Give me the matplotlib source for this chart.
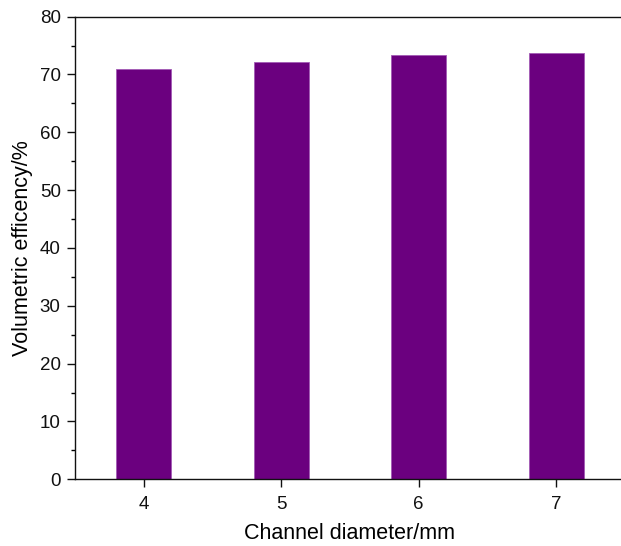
import matplotlib
matplotlib.use("Agg")
import matplotlib.pyplot as plt
from matplotlib.ticker import MultipleLocator

# Volumetric efficiency for each channel diameter
diameters = [4, 5, 6, 7]
efficiency = [70.9, 72.2, 73.4, 73.7]

plt.rcParams['font.family'] = ['Liberation Sans', 'DejaVu Sans']

fig = plt.figure(figsize=(6.21, 5.46), dpi=100)
ax = fig.add_axes([0.1208, 0.1222, 0.8853, 0.8473])

ax.bar(diameters, efficiency, width=0.4, color='#6b007f',
       edgecolor='#a35ab5', linewidth=0.6)

ax.set_xlim(3.5, 7.5)
ax.set_ylim(0, 80)
ax.set_xticks(diameters)
ax.yaxis.set_major_locator(MultipleLocator(10))
ax.yaxis.set_minor_locator(MultipleLocator(5))

ax.spines['right'].set_visible(False)
for s in ('left', 'bottom', 'top'):
    ax.spines[s].set_linewidth(1.0)
    ax.spines[s].set_color('#111111')

ax.tick_params(axis='both', which='major', direction='out', length=5.8,
               width=1.0, labelsize=13.5, colors='#111111', pad=4.5)
ax.tick_params(axis='y', which='minor', direction='out', length=3, width=1.0)
ax.tick_params(axis='x', which='major', pad=6.5)

ax.set_xlabel("Channel diameter/mm", fontsize=15.5, labelpad=7)
ax.set_ylabel("Volumetric efficency/%", fontsize=15.5, labelpad=5)

fig.savefig("out.png", dpi=100)
